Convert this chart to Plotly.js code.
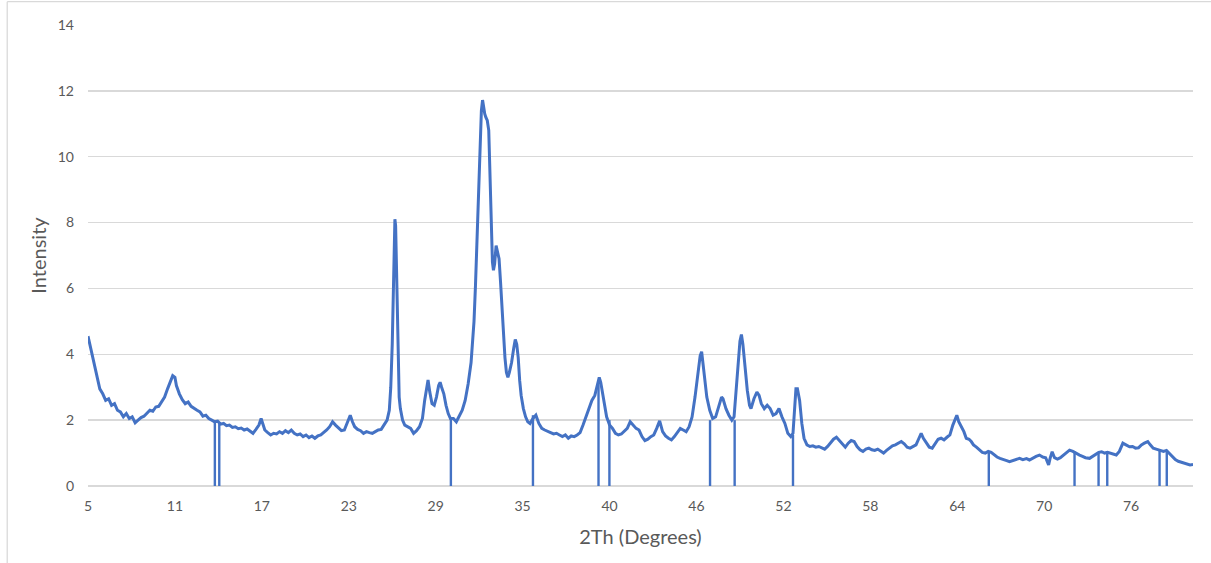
<!DOCTYPE html>
<html>
<head>
<meta charset="utf-8">
<script src="https://cdn.plot.ly/plotly-3.0.1.min.js"></script>
<style>html,body{margin:0;padding:0;background:#fff;}#chart{width:1211px;height:563px;}</style>
</head>
<body>
<div id="chart"></div>
<script>
const twoTheta = [
5.0,5.2,5.4,5.6,5.8,6.0,6.2,6.4,6.6,6.8,7.0,7.2,7.4,7.6,7.8,8.0,8.2,8.4,8.6,8.8,
9.0,9.2,9.4,9.6,9.8,10.0,10.2,10.4,10.6,10.75,10.9,11.0,11.2,11.4,11.6,11.8,12.0,12.2,12.4,12.6,
12.8,13.0,13.2,13.4,13.6,13.8,14.0,14.2,14.4,14.6,14.8,15.0,15.2,15.4,15.6,15.8,16.0,16.2,16.4,16.6,
16.75,16.9,17.0,17.2,17.4,17.6,17.8,18.0,18.2,18.4,18.6,18.8,19.0,19.2,19.4,19.6,19.8,20.0,20.2,20.4,
20.6,20.8,21.0,21.2,21.4,21.6,21.8,22.0,22.2,22.4,22.6,22.8,22.95,23.1,23.3,23.5,23.7,23.9,24.1,24.3,
24.5,24.7,24.9,25.1,25.3,25.45,25.55,25.65,25.72,25.78,25.83,25.88,25.94,26.0,26.06,26.12,26.2,26.35,26.5,26.7,
26.9,27.1,27.3,27.5,27.7,27.85,28.0,28.08,28.2,28.35,28.5,28.65,28.8,28.9,29.0,29.15,29.3,29.45,29.6,29.8,
30.0,30.2,30.4,30.6,30.8,31.0,31.1,31.2,31.3,31.4,31.5,31.6,31.7,31.78,31.85,31.93,32.0,32.1,32.2,32.28,
32.36,32.45,32.52,32.6,32.7,32.8,32.9,33.0,33.1,33.2,33.3,33.4,33.5,33.6,33.75,33.9,34.0,34.1,34.2,34.3,
34.4,34.55,34.7,34.85,35.0,35.2,35.4,35.6,35.8,36.0,36.2,36.4,36.6,36.8,37.0,37.2,37.4,37.6,37.8,38.0,
38.2,38.4,38.6,38.8,39.0,39.2,39.4,39.55,39.7,39.8,39.9,40.0,40.2,40.4,40.6,40.8,41.0,41.2,41.4,41.6,
41.8,42.0,42.2,42.4,42.6,42.8,43.0,43.2,43.4,43.6,43.8,44.0,44.2,44.4,44.6,44.8,45.0,45.2,45.4,45.6,
45.8,46.0,46.2,46.4,46.55,46.65,46.75,46.9,47.0,47.2,47.4,47.6,47.8,48.0,48.1,48.3,48.5,48.7,48.85,49.0,
49.15,49.25,49.35,49.45,49.6,49.75,49.9,50.0,50.2,50.4,50.55,50.7,50.9,51.1,51.3,51.5,51.7,51.9,52.1,52.3,
52.5,52.7,52.85,52.95,53.05,53.15,53.3,53.45,53.6,53.8,54.0,54.2,54.4,54.6,54.8,55.0,55.2,55.4,55.6,55.8,
56.0,56.2,56.4,56.6,56.8,57.0,57.2,57.4,57.6,57.8,58.0,58.2,58.4,58.6,58.8,59.0,59.2,59.4,59.6,59.8,
60.0,60.2,60.4,60.6,60.8,61.0,61.2,61.4,61.55,61.7,61.9,62.1,62.3,62.5,62.7,62.9,63.1,63.3,63.5,63.7,
63.85,63.97,64.1,64.27,64.45,64.61,64.8,64.95,65.1,65.3,65.5,65.7,65.9,66.1,66.3,66.5,66.7,66.9,67.1,67.3,
67.55,67.8,68.0,68.23,68.45,68.7,68.9,69.1,69.35,69.58,69.8,70.0,70.2,70.3,70.44,70.6,70.8,71.0,71.2,71.4,
71.62,71.85,72.1,72.3,72.5,72.7,72.98,73.2,73.4,73.6,73.8,74.0,74.2,74.4,74.6,74.79,75.0,75.24,75.45,75.69,
75.9,76.1,76.3,76.5,76.7,76.93,77.1,77.3,77.5,77.7,78.0,78.2,78.4,78.6,78.8,79.0,79.2,79.4,79.6,79.8,
80.0
];
const intensity = [
4.55,4.15,3.7,3.25,2.95,2.8,2.6,2.65,2.45,2.5,2.3,2.25,2.1,2.2,2.05,2.1,1.92,2.0,2.08,2.12,
2.2,2.3,2.27,2.4,2.42,2.55,2.7,2.95,3.2,3.35,3.3,3.05,2.8,2.62,2.5,2.55,2.42,2.35,2.3,2.25,
2.12,2.15,2.05,2.0,1.95,1.97,1.88,1.9,1.83,1.85,1.78,1.8,1.74,1.76,1.7,1.73,1.65,1.6,1.72,1.85,
2.05,1.8,1.7,1.62,1.55,1.6,1.58,1.65,1.6,1.68,1.62,1.7,1.6,1.55,1.58,1.5,1.55,1.47,1.52,1.45,
1.52,1.55,1.62,1.7,1.8,1.95,1.85,1.75,1.68,1.7,1.9,2.15,1.95,1.8,1.72,1.68,1.6,1.65,1.62,1.6,
1.65,1.7,1.72,1.85,2.0,2.3,3.0,4.3,5.8,7.2,8.1,7.9,6.7,5.0,3.6,2.7,2.35,2.0,1.85,1.8,
1.75,1.6,1.68,1.8,2.05,2.6,3.0,3.22,2.85,2.5,2.45,2.7,3.05,3.15,3.0,2.8,2.45,2.2,2.05,2.05,
1.95,2.15,2.3,2.6,3.1,3.75,4.3,5.0,6.1,7.3,8.6,10.3,11.4,11.72,11.5,11.3,11.2,11.1,10.8,9.5,
8.0,6.8,6.55,6.75,7.3,7.1,6.9,6.2,5.4,4.5,3.9,3.45,3.3,3.45,3.75,4.2,4.45,4.3,3.9,3.2,
2.75,2.35,2.1,1.95,1.9,2.05,2.15,1.9,1.75,1.7,1.65,1.62,1.58,1.6,1.55,1.5,1.55,1.45,1.52,1.5,
1.55,1.62,1.85,2.1,2.4,2.6,2.75,3.05,3.3,3.15,2.9,2.6,2.1,1.85,1.75,1.6,1.55,1.58,1.68,1.75,
1.95,1.85,1.75,1.7,1.5,1.38,1.42,1.5,1.55,1.75,1.98,1.65,1.52,1.45,1.4,1.5,1.62,1.75,1.7,1.65,
1.8,2.1,2.7,3.45,3.95,4.08,3.7,3.2,2.7,2.3,2.05,2.1,2.4,2.7,2.65,2.35,2.15,2.0,2.1,2.9,
3.9,4.4,4.6,4.3,3.6,2.9,2.45,2.35,2.65,2.85,2.75,2.5,2.35,2.45,2.35,2.15,2.2,2.35,2.1,1.9,
1.6,1.5,1.6,2.5,2.95,2.95,2.6,1.9,1.45,1.25,1.2,1.22,1.18,1.2,1.15,1.12,1.2,1.3,1.42,1.48,
1.38,1.25,1.18,1.3,1.38,1.35,1.2,1.1,1.05,1.12,1.15,1.1,1.08,1.12,1.05,1.0,1.08,1.15,1.22,1.25,
1.3,1.35,1.28,1.18,1.15,1.2,1.25,1.45,1.6,1.45,1.3,1.18,1.15,1.3,1.42,1.45,1.4,1.48,1.55,1.85,
2.0,2.15,1.95,1.8,1.65,1.45,1.42,1.35,1.25,1.18,1.1,1.02,1.0,1.05,1.02,0.95,0.88,0.84,0.82,0.78,
0.74,0.78,0.82,0.84,0.8,0.83,0.79,0.85,0.9,0.94,0.88,0.86,0.64,0.84,1.04,0.86,0.82,0.86,0.94,1.0,
1.09,1.05,0.98,0.94,0.9,0.86,0.84,0.9,0.98,1.02,1.04,1.0,1.02,0.99,0.95,0.94,1.05,1.3,1.25,1.19,
1.2,1.15,1.16,1.25,1.3,1.35,1.25,1.15,1.12,1.1,1.05,1.08,0.99,0.9,0.8,0.75,0.72,0.7,0.68,0.64,
0.65
];
// reference peak markers (drop lines to zero)
const refPeaks   = [13.61,13.91,29.63,35.2,39.65,40.39,47.22,48.89,52.85,66.14,71.96,73.59,74.18,77.73,78.22];
const refHeights = [1.95,1.93,2.05,2.15,3.2,2.0,2.0,2.0,1.55,1.04,1.05,1.0,1.0,1.12,1.05];
// x-axis category labels as shown
const xTickVals = [5,10.9,16.8,22.7,28.6,34.5,40.4,46.3,52.2,58.1,64.0,69.9,75.8];
const xTickText = ["5","11","17","23","29","35","40","46","52","58","64","70","76"];
const yTickVals = [0,2,4,6,8,10,12,14];

const blue = '#4472c4';
const sx = [], sy = [];
refPeaks.forEach((p,i)=>{ sx.push(p,p,null); sy.push(0,refHeights[i],null); });

const traces = [
  {x: twoTheta, y: intensity, type:'scatter', mode:'lines',
   line:{color:blue, width:3, shape:'linear'}, hoverinfo:'skip'},
  {x: sx, y: sy, type:'scatter', mode:'lines',
   line:{color:blue, width:2.4}, hoverinfo:'skip', connectgaps:false}
];

const font = "Lato, 'Liberation Sans', Arial, sans-serif";
const layout = {
  width:1211, height:563,
  margin:{l:88, r:18, t:25, b:77},
  paper_bgcolor:'#ffffff', plot_bgcolor:'#ffffff',
  showlegend:false,
  font:{family:font, color:'#595959', size:14},
  xaxis:{
    range:[5,80], tickmode:'array', tickvals:xTickVals, ticktext:xTickText,
    showgrid:false, zeroline:false, showline:false, ticks:'',
    ticklabelstandoff:10,
    tickfont:{family:font, size:14, color:'#595959'},
    title:{text:'2Th (Degrees)', font:{family:font, size:20, color:'#595959'}, standoff:16}
  },
  yaxis:{
    range:[0,14], tickmode:'array', tickvals:yTickVals,
    showgrid:true, gridcolor:'#d9d9d9', gridwidth:1.3,
    zeroline:true, zerolinecolor:'#d9d9d9', zerolinewidth:1.3,
    showline:false, ticks:'', ticklabelstandoff:13,
    tickfont:{family:font, size:14, color:'#595959'},
    title:{text:'Intensity', font:{family:font, size:20, color:'#595959'}, standoff:5}
  },
  shapes:[
    {type:'line', xref:'paper', yref:'paper', x0:-0.0731, x1:1.02, y0:1.0506, y1:1.0506,
     line:{color:'#d9d9d9', width:1.3}, layer:'below'},
    {type:'line', xref:'paper', yref:'paper', x0:-0.0731, x1:-0.0731, y0:-0.2, y1:1.0506,
     line:{color:'#d9d9d9', width:1.3}, layer:'below'}
  ]
};
Plotly.newPlot('chart', traces, layout, {staticPlot:true, displayModeBar:false});
</script>
</body>
</html>
